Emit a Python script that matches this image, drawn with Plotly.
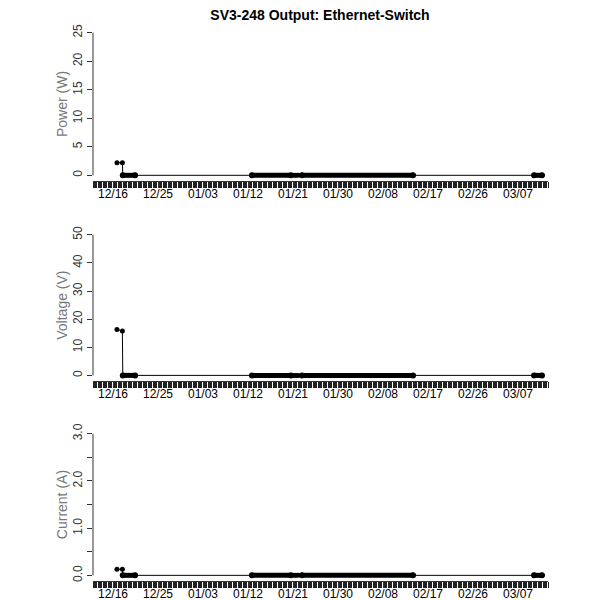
import plotly.graph_objects as go
from plotly.subplots import make_subplots

# -------------------------------------------------
# Data
# -------------------------------------------------
read_times = [
    "2017-12-16 19:00", "2017-12-17 21:00", "2017-12-17 23:00", "2017-12-20 10:00",
    "2018-01-12 19:00", "2018-01-20 14:00", "2018-01-21 04:00", "2018-01-21 14:00",
    "2018-01-22 00:00", "2018-01-22 19:00", "2018-02-14 00:00",
    "2018-03-10 05:00", "2018-03-11 19:00",
]
power_w = [2.2, 2.2, 0, 0, 0, 0, 0, 0, 0, 0, 0, 0, 0]
voltage_v = [16.3, 15.8, 0, 0, 0, 0, 0, 0, 0, 0, 0, 0, 0]
current_a = [0.13, 0.13, 0, 0, 0, 0, 0, 0, 0, 0, 0, 0, 0]

# periods of dense logging (all readings zero)
dense_start = ["2017-12-17 23:00", "2018-01-12 19:00", "2018-01-22 19:00", "2018-03-10 05:00"]
dense_end = ["2017-12-20 10:00", "2018-01-20 14:00", "2018-02-14 00:00", "2018-03-11 19:00"]

panels = [
    ("Power (W)", power_w, [0, 5, 10, 15, 20, 25], ["0", "5", "10", "15", "20", "25"], 25),
    ("Voltage (V)", voltage_v, [0, 10, 20, 30, 40, 50], ["0", "10", "20", "30", "40", "50"], 50),
    ("Current (A)", current_a, [0, 0.5, 1, 1.5, 2, 2.5, 3], ["0.0", "", "1.0", "", "2.0", "", "3.0"], 3),
]

x_labels = ["2017-12-16", "2017-12-25", "2018-01-03", "2018-01-12", "2018-01-21",
            "2018-01-30", "2018-02-08", "2018-02-17", "2018-02-26", "2018-03-07"]
x_text = ["12/16", "12/25", "01/03", "01/12", "01/21", "01/30", "02/08", "02/17", "02/26", "03/07"]

FONT = "Liberation Sans, Arial, sans-serif"
AXC = "#333333"

# the page body adds an 8px offset, so the figure is 592px and margins are shifted
W = H = 592

fig = make_subplots(rows=3, cols=1)
domains = [[0.722, 1.0], [0.361, 0.635], [0.0, 0.276]]

for i, (label, vals, yt, ytt, ymax) in enumerate(panels):
    row = i + 1
    # thin connecting line with points
    fig.add_trace(go.Scatter(
        x=read_times, y=vals, mode="lines+markers",
        line=dict(color="black", width=1),
        marker=dict(color="black", size=5),
        showlegend=False, hoverinfo="skip",
    ), row=row, col=1)
    # dense logging periods drawn as thick bars
    for s, e in zip(dense_start, dense_end):
        fig.add_trace(go.Scatter(
            x=[s, e], y=[0, 0], mode="lines+markers",
            line=dict(color="black", width=5),
            marker=dict(color="black", size=6),
            showlegend=False, hoverinfo="skip",
        ), row=row, col=1)

    pad = ymax * 0.04
    yname = "yaxis" if i == 0 else f"yaxis{row}"
    xname = "xaxis" if i == 0 else f"xaxis{row}"
    fig.update_layout(**{
        yname: dict(
            domain=domains[i], range=[-pad, ymax + pad], automargin=False,
            tickvals=yt, ticktext=ytt, tickangle=-90,
            ticks="outside", ticklen=5, tickcolor=AXC, tickwidth=1,
            showline=False, showgrid=False, zeroline=False,
            tickfont=dict(size=12, color=AXC, family=FONT),
            title=dict(text=label, font=dict(size=14, color="#777777", family=FONT), standoff=0),
        ),
        xname: dict(
            type="date", range=["2017-12-12 00:00", "2018-03-13 00:00"], automargin=False,
            tickvals=x_labels, ticktext=x_text, ticklabelstandoff=-4,
            ticks="outside", ticklen=6, tickcolor=AXC, tickwidth=1,
            minor=dict(dtick=6 * 3600 * 1000, tick0="2017-12-12 18:00", ticks="outside",
                       ticklen=6, tickcolor="#222222", tickwidth=1),
            showline=True, linecolor=AXC, linewidth=1,
            showgrid=False, zeroline=False,
            tickfont=dict(size=12, color="black", family=FONT),
        ),
    })
    # R-style y axis line spanning only the tick range
    fig.add_shape(type="line", xref=f"x{row if row > 1 else ''} domain", yref=f"y{row if row > 1 else ''}",
                  x0=0, x1=0, y0=0, y1=ymax, line=dict(color=AXC, width=1))

fig.update_layout(
    width=W, height=H,
    margin=dict(l=85, r=52, t=19, b=19),
    paper_bgcolor="white", plot_bgcolor="white",
    font=dict(family=FONT),
    title=dict(text="<b>SV3-248 Output: Ethernet-Switch</b>", x=312 / W, xanchor="center",
               y=1 - 2 / H, yanchor="top", pad=dict(t=0),
               font=dict(size=14, color="black", family=FONT)),
)

fig.write_html("out.html")
